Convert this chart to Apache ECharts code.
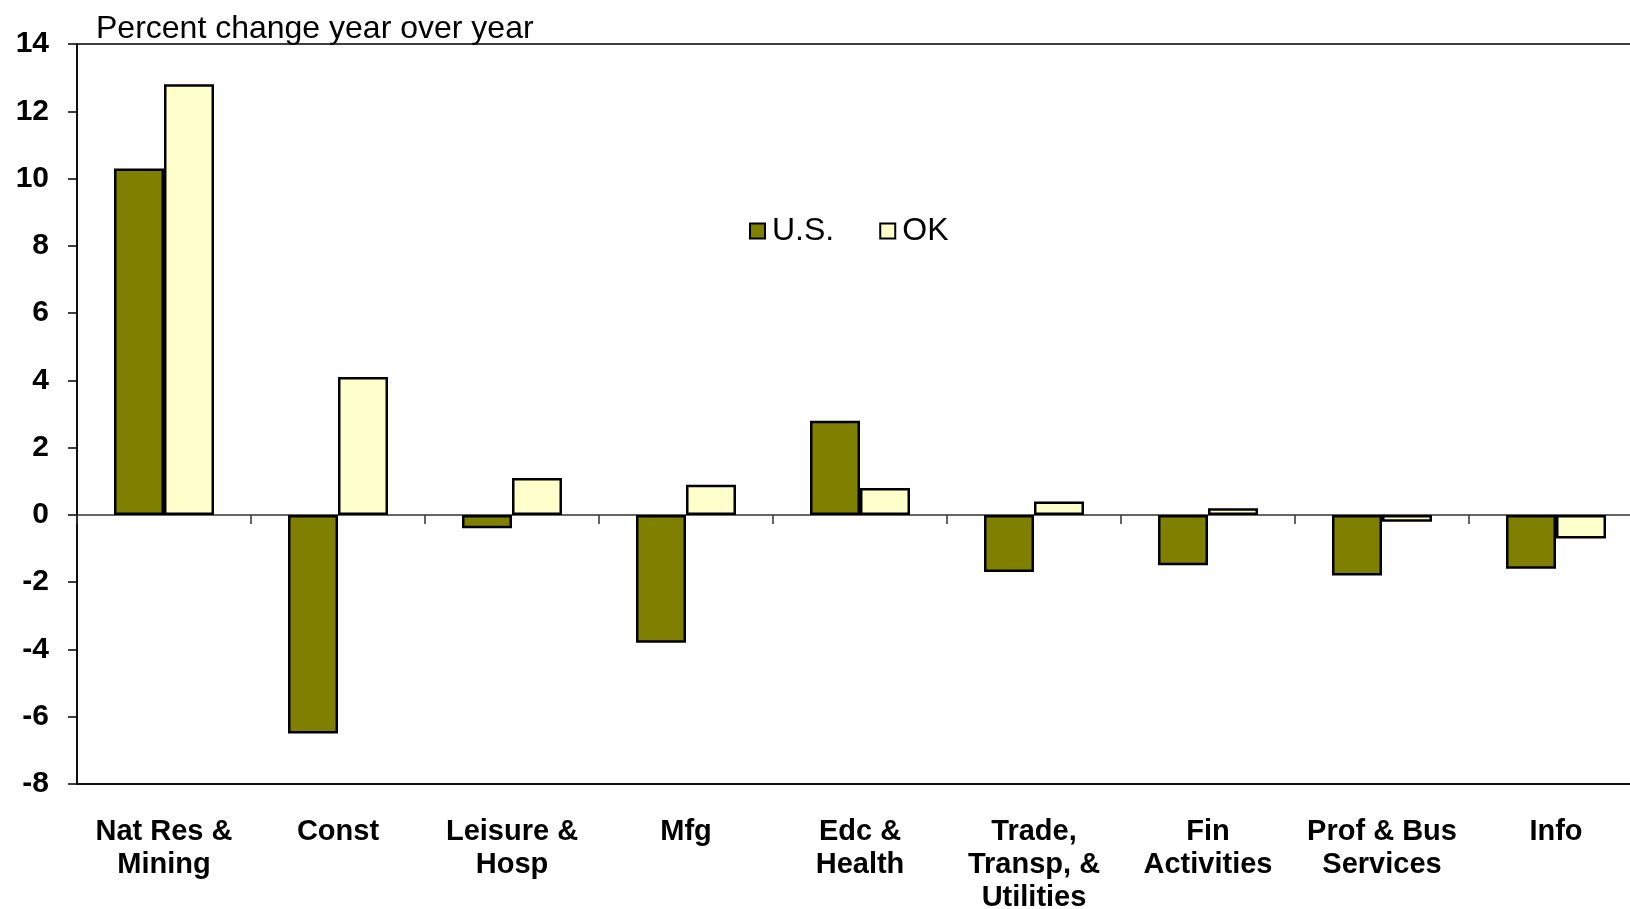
<!DOCTYPE html>
<html>
<head>
<meta charset="utf-8">
<script src="https://cdn.jsdelivr.net/npm/echarts@6/dist/echarts.min.js"></script>
<style>
html,body{margin:0;padding:0;background:#fff;}
#chart{width:1630px;height:909px;}
</style>
</head>
<body>
<div id="chart"></div>
<script>
const categories = ["Nat Res &\nMining", "Const", "Leisure &\nHosp", "Mfg", "Edc &\nHealth", "Trade,\nTransp, &\nUtilities", "Fin\nActivities", "Prof & Bus\nServices", "Info"];
const usValues = [10.3, -6.5, -0.4, -3.8, 2.8, -1.7, -1.5, -1.8, -1.6];
const okValues = [12.8, 4.1, 1.1, 0.9, 0.8, 0.4, 0.2, -0.2, -0.7];
const yMin = -8, yMax = 14, yStep = 2;
const yTitle = "Percent change year over year";

const chart = echarts.init(document.getElementById('chart'), null, {renderer: 'canvas'});
const font = 'Liberation Sans, Arial, sans-serif';
chart.setOption({
  backgroundColor: '#ffffff',
  animation: false,
  title: {
    text: yTitle,
    left: 91, top: 8,
    textStyle: {fontFamily: font, fontSize: 32, fontWeight: 'normal', color: '#000'}
  },
  legend: {
    data: ['U.S.', 'OK'],
    left: 744, top: 210,
    itemWidth: 15, itemHeight: 15, itemGap: 45,
    icon: 'rect',
    textStyle: {fontFamily: font, fontSize: 32, color: '#000', padding: [0, 0, 0, 2]}
  },
  grid: {
    left: 77, top: 44, width: 1566, height: 740,
    outerBoundsMode: 'none',
    show: true, borderColor: '#000', borderWidth: 1.5, backgroundColor: '#fff'
  },
  xAxis: [{
    type: 'category', data: categories, position: 'bottom',
    axisLine: {onZero: false, lineStyle: {color: '#000', width: 1.5}},
    axisTick: {show: false},
    axisLabel: {fontFamily: font, fontSize: 29, fontWeight: 'bold', color: '#000', margin: 31, lineHeight: 33, interval: 0}
  }, {
    type: 'category', data: categories, position: 'bottom',
    axisLine: {onZero: true, lineStyle: {color: '#333', width: 1.5}},
    axisTick: {show: true, length: 9, lineStyle: {color: '#333', width: 1.5}},
    axisLabel: {show: false}
  }],
  yAxis: {
    type: 'value', min: yMin, max: yMax, interval: yStep,
    axisLine: {show: true, lineStyle: {color: '#000', width: 1.5}},
    axisTick: {show: true, length: 9, lineStyle: {color: '#000', width: 1.5}},
    splitLine: {show: false},
    axisLabel: {fontFamily: font, fontSize: 30, fontWeight: 'bold', color: '#000', margin: 28}
  },
  series: [{
    name: 'U.S.', type: 'bar', data: usValues, barWidth: 50, barGap: '0%',
    itemStyle: {color: '#808000', borderColor: '#000', borderWidth: 2.5}
  }, {
    name: 'OK', type: 'bar', data: okValues, barWidth: 50, barGap: '0%',
    itemStyle: {color: '#FFFFCC', borderColor: '#000', borderWidth: 2.5}
  }]
});
</script>
</body>
</html>
